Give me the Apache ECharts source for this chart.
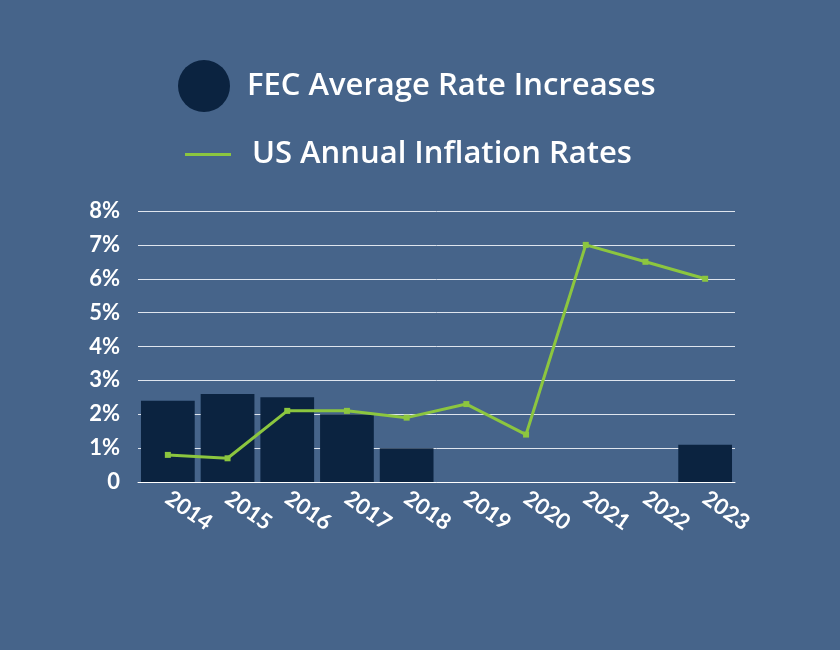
<!DOCTYPE html>
<html><head><meta charset="utf-8">
<script src="https://cdn.jsdelivr.net/npm/echarts@6/dist/echarts.min.js"></script>
<style>html,body{margin:0;background:#46648a}#main{width:840px;height:650px}</style>
</head><body><div id="main"></div>
<script>
var years = ['2014','2015','2016','2017','2018','2019','2020','2021','2022','2023'];
var fecRates = [2.4, 2.6, 2.5, 2.0, 1.0, 0, 0, 0, 0, 1.1];
var inflation = [0.8, 0.7, 2.1, 2.1, 1.9, 2.3, 1.4, 7.0, 6.5, 6.0];

var chart = echarts.init(document.getElementById('main'));
var font = 'Lato';
var legendFont = 'Open Sans';
chart.setOption({
    backgroundColor: '#46648a',
    textStyle: { fontFamily: font },
    legend: [{
        data: [{ name: 'FEC Average Rate Increases', icon: 'circle' }],
        left: 173, top: 55, itemWidth: 52, itemHeight: 52, itemGap: 20,
        textStyle: { color: '#fff', fontSize: 31, fontWeight: 600, fontFamily: legendFont, padding: [0, 0, 0, 12] }
    }, {
        data: [{ name: 'US Annual Inflation Rates', icon: 'rect' }],
        left: 180, top: 134, itemWidth: 46, itemHeight: 3,
        textStyle: { color: '#fff', fontSize: 31, fontWeight: 600, fontFamily: legendFont, padding: [0, 0, 0, 16] }
    }],
    grid: { left: 138, right: 105, top: 211, bottom: 168 },
    xAxis: {
        type: 'category', data: years,
        axisLine: { show: true, lineStyle: { color: '#ffffff', width: 1 } },
        axisTick: { show: false },
        axisLabel: { color: '#fff', fontSize: 22, fontWeight: 'bold', rotate: -35, margin: 14 }
    },
    yAxis: {
        type: 'value', min: 0, max: 8, interval: 1,
        axisLine: { show: false }, axisTick: { show: false },
        splitLine: { lineStyle: { color: '#dfe5ee', width: 1 } },
        axisLabel: { color: '#fff', fontSize: 22, fontWeight: 'bold', margin: 18,
            formatter: function (v) { return v === 0 ? '0' : v + '%'; } }
    },
    series: [{
        name: 'FEC Average Rate Increases', type: 'bar', data: fecRates,
        barCategoryGap: '10%', itemStyle: { color: '#0b2340' }
    }, {
        name: 'US Annual Inflation Rates', type: 'line', data: inflation,
        symbol: 'rect', symbolSize: 6,
        lineStyle: { color: '#8cc63f', width: 3 }, itemStyle: { color: '#8cc63f' }
    }]
});
</script></body></html>
